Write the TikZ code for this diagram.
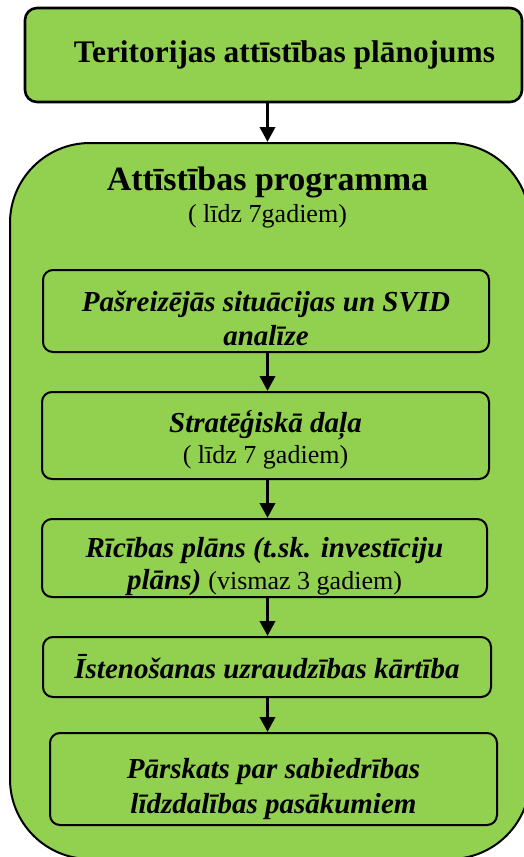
\documentclass[tikz,border=0pt]{standalone}
\usepackage{fontspec}
\setmainfont{Liberation Serif}
\usetikzlibrary{arrows.meta}
\definecolor{zals}{RGB}{146,208,80}
\newcommand{\balsts}[1]{\rule{0pt}{#1}}

\begin{document}
\begin{tikzpicture}[x=0.5pt,y=-0.5pt,
  bloks/.style={draw=black,line width=1pt,fill=zals,rounded corners=5pt,inner sep=0pt,align=center},
  slips/.style={font=\fontsize{14.5}{17.25}\selectfont\bfseries\itshape},
  bulta/.style={-{Triangle[length=7.5pt,width=7.5pt]},line width=1.75pt}]
\useasboundingbox (0,0) rectangle (524,857);
\clip (0,0) rectangle (524,857);

\node[bloks,rounded corners=6pt,line width=1.3pt,minimum width=248.5pt,minimum height=47pt,
  font=\fontsize{15.7}{19}\selectfont\bfseries] (plan) at (273.5,55)
  {\hspace*{11pt}Teritorijas attīstības plānojums};

\node[bloks,rounded corners=40pt,minimum width=260pt,minimum height=358pt] (prog) at (270,501) {};
\node[align=center,inner sep=0pt,font=\fontsize{17}{20}\selectfont\bfseries] (progtitle) at (267.5,198)
  {Attīstības programma\\[-4pt]{\normalfont\fontsize{13}{15}\selectfont ( līdz 7gadiem)}};

\node[bloks,slips,minimum width=223pt,minimum height=41pt] (analize) at (266,311)
  {\balsts{17.5pt}Pašreizējās situācijas un SVID\\analīze};
\node[bloks,slips,minimum width=223.5pt,minimum height=43.5pt] (strat) at (265.5,435.5)
  {\balsts{15.5pt}Stratēģiskā daļa\\[-2pt]{\normalfont\fontsize{13}{15}\selectfont ( līdz 7 gadiem)}};
\node[bloks,slips,minimum width=222.5pt,minimum height=39pt] (ricib) at (264.5,558)
  {\balsts{18.5pt}Rīcības plāns (t.sk. investīciju\\[-1.5pt]plāns) {\normalfont\fontsize{13}{15}\selectfont (vismaz 3 gadiem)}};
\node[bloks,slips,minimum width=224pt,minimum height=30pt] (isten) at (267,667)
  {Īstenošanas uzraudzības kārtība};
\node[bloks,slips,minimum width=223.5pt,minimum height=46pt] (parsk) at (273.5,779)
  {\balsts{20pt}Pārskats par sabiedrības\\līdzdalības pasākumiem};

\draw[bulta] (plan.south -| progtitle) -- (prog.north -| progtitle);
\draw[bulta] (analize.south -| progtitle) -- (strat.north -| progtitle);
\draw[bulta] (strat.south -| progtitle) -- (ricib.north -| progtitle);
\draw[bulta] (ricib.south -| progtitle) -- (isten.north -| progtitle);
\draw[bulta] (isten.south -| progtitle) -- (parsk.north -| progtitle);
\end{tikzpicture}
\end{document}
